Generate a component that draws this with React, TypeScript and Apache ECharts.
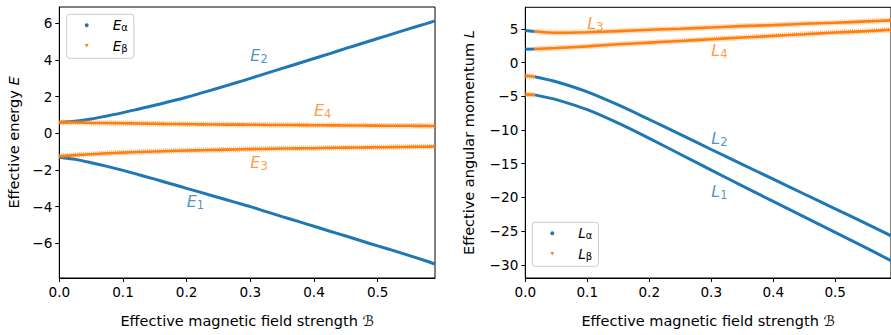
import React, { useEffect, useRef } from "react";
import * as echarts from "echarts";

// ---------- data ----------
const B_E = [0, 0.025, 0.05, 0.075, 0.1, 0.125, 0.15, 0.175, 0.2, 0.225, 0.25, 0.275, 0.3, 0.325, 0.35, 0.375, 0.4, 0.425, 0.45, 0.475, 0.5, 0.525, 0.55, 0.575, 0.59];
const E1 = [-1.3, -1.42, -1.6, -1.8, -2.02, -2.26, -2.5, -2.75, -3.0, -3.25, -3.5, -3.75, -4.0, -4.27, -4.54, -4.8, -5.07, -5.34, -5.6, -5.87, -6.14, -6.4, -6.67, -6.95, -7.13];
const E2 = [0.6, 0.66, 0.78, 0.95, 1.13, 1.33, 1.53, 1.75, 1.97, 2.22, 2.47, 2.73, 3.0, 3.27, 3.54, 3.81, 4.08, 4.35, 4.63, 4.9, 5.17, 5.44, 5.71, 5.97, 6.13];
const E3 = [-1.25, -1.19, -1.14, -1.09, -1.05, -1.02, -0.99, -0.96, -0.94, -0.92, -0.9, -0.88, -0.86, -0.845, -0.83, -0.82, -0.81, -0.795, -0.78, -0.77, -0.76, -0.75, -0.74, -0.73, -0.72];
const E4 = [0.6, 0.59, 0.57, 0.56, 0.55, 0.54, 0.52, 0.51, 0.5, 0.49, 0.48, 0.475, 0.47, 0.46, 0.455, 0.45, 0.44, 0.435, 0.43, 0.425, 0.42, 0.415, 0.41, 0.405, 0.4];

const B_SWAP = [0, 0.015];
const L1_START = [-4.72, -4.8];
const L2_START = [-1.95, -2.1];
const L3_START = [4.75, 4.6];
const L4_START = [1.95, 2.0];

const B_L = [0.015, 0.05, 0.1, 0.15, 0.2, 0.25, 0.3, 0.35, 0.4, 0.45, 0.5, 0.55, 0.59];
const L1 = [-4.8, -5.5, -7.0, -9.0, -11.25, -13.6, -15.95, -18.3, -20.6, -22.9, -25.2, -27.5, -29.4];
const L2 = [-2.1, -2.85, -4.35, -6.3, -8.45, -10.65, -12.9, -15.1, -17.3, -19.5, -21.7, -23.9, -25.7];
const L3 = [4.6, 4.42, 4.5, 4.65, 4.85, 5.0, 5.2, 5.4, 5.55, 5.75, 5.9, 6.1, 6.25];
const L4 = [2.0, 2.15, 2.4, 2.7, 2.95, 3.2, 3.45, 3.7, 3.95, 4.2, 4.45, 4.65, 4.85];

const X_TICKS = [0, 0.1, 0.2, 0.3, 0.4, 0.5];
const Y_TICKS_E = [-6, -4, -2, 0, 2, 4, 6];
const Y_TICKS_L = [-30, -25, -20, -15, -10, -5, 0, 5];

// annotations: [letter, subscript, B, value, series kind]
const E_NOTES: [string, string, number, number, string][] = [
  ["E", "2", 0.3, 4.27, "a"],
  ["E", "4", 0.4, 1.27, "b"],
  ["E", "3", 0.3, -1.57, "b"],
  ["E", "1", 0.2, -3.73, "a"],
];
const L_NOTES: [string, string, number, number, string][] = [
  ["L", "3", 0.1, 5.86, "b"],
  ["L", "4", 0.3, 1.72, "b"],
  ["L", "2", 0.3, -11.23, "a"],
  ["L", "1", 0.3, -19.18, "a"],
];

// ---------- styling ----------
const BLUE = "#1f77b4";
const ORANGE = "#ff7f0e";
const FONT = "DejaVu Sans";
const TICK_FS = 13.6;
const NAME_FS = 14.5;

const pairs = (xs: number[], ys: number[]) => xs.map((x, i) => [x, ys[i]]);
const minus = (v: number) => String(v).replace("-", "\u2212");

function base(name: string, data: number[][], color: string, gi: number) {
  return {
    type: "line",
    name,
    data,
    xAxisIndex: gi,
    yAxisIndex: gi,
    showSymbol: false,
    symbol: "none",
    smooth: 0.3,
    color,
    itemStyle: { color },
    silent: true,
  };
}

function blueLine(name: string, data: number[][], gi: number) {
  return { ...base(name, data, BLUE, gi), lineStyle: { color: BLUE, width: 3 }, z: 2 };
}

// orange curves: a light hatched band (the triangle markers) under a solid core
function orangeLines(name: string, data: number[][], gi: number) {
  return [
    { ...base(name, data, ORANGE, gi), lineStyle: { color: ORANGE, width: 5.5, type: [1, 1], opacity: 0.55 }, z: 3 },
    { ...base(name, data, ORANGE, gi), lineStyle: { color: ORANGE, width: 2.6 }, z: 3 },
  ];
}

function noteSeries(n: [string, string, number, number, string], gi: number) {
  const color = n[4] === "a" ? BLUE : ORANGE;
  return {
    type: "scatter",
    name: "note",
    xAxisIndex: gi,
    yAxisIndex: gi,
    symbolSize: 0,
    silent: true,
    data: [[n[2], n[3]]],
    z: 5,
    label: {
      show: true,
      position: "right",
      distance: 0,
      formatter: `{i|${n[0]}}{s|${n[1]}}`,
      rich: {
        i: { fontFamily: FONT, fontStyle: "italic", fontSize: 16, color },
        s: { fontFamily: FONT, fontSize: 11.5, color, padding: [7, 0, 0, 0] },
      },
    },
  };
}

function xAxis(gi: number, max: number) {
  return {
    gridIndex: gi,
    type: "value",
    min: 0,
    max,
    name: "Effective magnetic field strength \u212C",
    nameLocation: "middle",
    nameGap: 35,
    nameTextStyle: { fontFamily: FONT, fontSize: NAME_FS, color: "#000" },
    axisLine: { show: true, onZero: false, lineStyle: { color: "#000", width: 1 } },
    axisTick: { show: true, length: 4, customValues: X_TICKS, lineStyle: { color: "#000", width: 1 } },
    axisLabel: {
      customValues: X_TICKS,
      formatter: (v: number) => v.toFixed(1),
      margin: 7,
      fontFamily: FONT,
      fontSize: TICK_FS,
      color: "#000",
    },
    splitLine: { show: false },
  };
}

function yAxis(gi: number, min: number, max: number, ticks: number[], label: string, letter: string, gap: number) {
  return {
    gridIndex: gi,
    type: "value",
    min,
    max,
    name: `{n|${label} }{i|${letter}}`,
    nameLocation: "middle",
    nameGap: gap,
    nameTextStyle: {
      rich: {
        n: { fontFamily: FONT, fontSize: NAME_FS, color: "#000" },
        i: { fontFamily: FONT, fontSize: NAME_FS, color: "#000", fontStyle: "italic" },
      },
    },
    axisLine: { show: true, onZero: false, lineStyle: { color: "#000", width: 1 } },
    axisTick: { show: true, length: 4, customValues: ticks, lineStyle: { color: "#000", width: 1 } },
    axisLabel: {
      customValues: ticks,
      formatter: (v: number) => minus(v),
      margin: 7,
      fontFamily: FONT,
      fontSize: TICK_FS,
      color: "#000",
    },
    splitLine: { show: false },
  };
}

function legend(names: string[], left: number, top: number) {
  return {
    orient: "vertical",
    left,
    top,
    data: [
      { name: names[0], icon: "circle", itemStyle: { color: BLUE } },
      { name: names[1], icon: "path://M0,0L10,0L5,9Z", itemStyle: { color: ORANGE } },
    ],
    itemWidth: 4,
    itemHeight: 4,
    itemGap: 6,
    padding: [4, 6, 5, 18],
    borderColor: "#cccccc",
    borderWidth: 1,
    borderRadius: 3,
    backgroundColor: "rgba(255,255,255,0.8)",
    selectedMode: false,
    formatter: (name: string) => `{i|${name[0]}}{s|${name.slice(1)}}`,
    textStyle: {
      padding: [0, 0, 0, 19],
      rich: {
        i: { fontFamily: FONT, fontStyle: "italic", fontSize: 13.6, color: "#000", lineHeight: 16 },
        s: { fontFamily: FONT, fontSize: 10, color: "#000", padding: [5, 0, 0, 0] },
      },
    },
  };
}

export default function App() {
  const ref = useRef<HTMLDivElement>(null);
  useEffect(() => {
    document.body.style.margin = "0";
    const chart = echarts.init(ref.current!, null, { renderer: "svg" });
    const option = {
      animation: false,
      backgroundColor: "#fff",
      textStyle: { fontFamily: FONT },
      grid: [
        { left: 59.3, top: 7, width: 375.7, height: 271, show: true, borderColor: "#000", borderWidth: 1, backgroundColor: "transparent" },
        { left: 525.3, top: 7.3, width: 366.5, height: 270.7, show: true, borderColor: "#000", borderWidth: 1, backgroundColor: "transparent" },
      ],
      xAxis: [xAxis(0, 0.59), xAxis(1, 0.59)],
      yAxis: [
        yAxis(0, -7.89, 6.89, Y_TICKS_E, "Effective energy", "E", 38),
        yAxis(1, -31.96, 8.19, Y_TICKS_L, "Effective angular momentum", "L", 49),
      ],
      legend: [legend(["E\u03b1", "E\u03b2"], 66.7, 14.3), legend(["L\u03b1", "L\u03b2"], 532.3, 222.3)],
      series: [
        blueLine("E\u03b1", pairs(B_E, E1), 0),
        blueLine("E\u03b1", pairs(B_E, E2), 0),
        ...orangeLines("E\u03b2", pairs(B_E, E3), 0),
        ...orangeLines("E\u03b2", pairs(B_E, E4), 0),
        blueLine("L\u03b1", pairs(B_L, L1), 1),
        blueLine("L\u03b1", pairs(B_L, L2), 1),
        blueLine("L\u03b1", pairs(B_SWAP, L3_START), 1),
        blueLine("L\u03b1", pairs(B_SWAP, L4_START), 1),
        ...orangeLines("L\u03b2", pairs(B_L, L3), 1),
        ...orangeLines("L\u03b2", pairs(B_L, L4), 1),
        ...orangeLines("L\u03b2", pairs(B_SWAP, L1_START), 1),
        ...orangeLines("L\u03b2", pairs(B_SWAP, L2_START), 1),
        ...E_NOTES.map((n) => noteSeries(n, 0)),
        ...L_NOTES.map((n) => noteSeries(n, 1)),
      ],
    };
    chart.setOption(option as any);
    return () => chart.dispose();
  }, []);
  return <div ref={ref} style={{ width: 891, height: 335 }} />;
}
